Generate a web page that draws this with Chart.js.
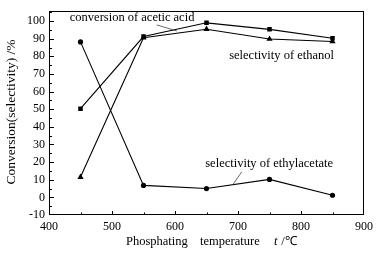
<!DOCTYPE html>
<html>
<head>
<meta charset="utf-8">
<script src="https://cdn.jsdelivr.net/npm/chart.js@4.4.1/dist/chart.umd.min.js"></script>
<style>
html,body{margin:0;padding:0;background:#fff;}
#wrap{width:380px;height:255px;position:relative;}
</style>
</head>
<body>
<div id="wrap"><canvas id="c" width="380" height="255"></canvas></div>
<script>
// ---- data ----
const temperatures = [450, 550, 650, 750, 850];
const conversionAceticAcid = [50.3, 91.2, 99.0, 95.3, 90.3];
const selectivityEthanol = [11.5, 90.5, 95.4, 89.8, 88.4];
const selectivityEthylacetate = [88.2, 6.8, 5.0, 10.2, 1.2];
const xTickValues = [400, 500, 600, 700, 800, 900];
const yTickValues = [-10, 0, 10, 20, 30, 40, 50, 60, 70, 80, 90, 100];

const SERIF = '"Liberation Serif", "Times New Roman", serif';

const annotations = [
  {text: 'conversion of acetic acid', x: 433, y: 101.8, leader: [571, 97.8, 603, 94.4]},
  {text: 'selectivity of ethanol', x: 686, y: 80.4},
  {text: 'selectivity of ethylacetate', x: 648, y: 19.0, leader: [706, 14.5, 692, 7.3]}
];

const toPts = arr => arr.map((v, i) => ({x: temperatures[i], y: v}));

const decor = {
  id: 'decor',
  afterDraw(chart) {
    const {ctx, chartArea: a, scales: {x, y}} = chart;
    ctx.save();
    ctx.strokeStyle = '#000';
    ctx.lineWidth = 1;
    // frame
    ctx.strokeRect(Math.round(a.left) + 0.5, Math.round(a.top) + 0.5,
                   Math.round(a.right - a.left) - 1, Math.round(a.bottom - a.top) - 1);
    // inward ticks
    ctx.beginPath();
    for (let v = 450; v < 900; v += 50) {
      const px = Math.round(x.getPixelForValue(v)) + 0.5;
      const len = (v % 100 === 0) ? 4 : 2.5;
      ctx.moveTo(px, a.bottom);
      ctx.lineTo(px, a.bottom - len);
    }
    for (let v = -5; v <= 105; v += 5) {
      const py = Math.round(y.getPixelForValue(v)) + 0.5;
      if (py < a.top + 1) continue;
      const len = (v % 10 === 0) ? 5 : 3;
      ctx.moveTo(a.left, py);
      ctx.lineTo(a.left + len, py);
    }
    ctx.stroke();
    // annotations
    ctx.fillStyle = '#000';
    ctx.font = '12.5px ' + SERIF;
    ctx.textBaseline = 'middle';
    ctx.textAlign = 'left';
    ctx.lineWidth = 0.8;
    ctx.strokeStyle = '#444';
    annotations.forEach(an => {
      ctx.fillText(an.text, x.getPixelForValue(an.x), y.getPixelForValue(an.y));
      if (an.leader) {
        ctx.beginPath();
        ctx.moveTo(x.getPixelForValue(an.leader[0]), y.getPixelForValue(an.leader[1]));
        ctx.lineTo(x.getPixelForValue(an.leader[2]), y.getPixelForValue(an.leader[3]));
        ctx.stroke();
      }
    });
    // axis titles
    ctx.font = '12.5px ' + SERIF;
    ctx.textAlign = 'left';
    const ty = 242;
    ctx.fillText('Phosphating', 126, ty);
    ctx.fillText('temperature', 200, ty);
    ctx.font = 'italic 12.5px ' + SERIF;
    ctx.fillText('t', 274, ty);
    ctx.font = '12.5px ' + SERIF;
    ctx.fillText(' /℃', 278, ty);
    ctx.save();
    ctx.translate(11, 112);
    ctx.rotate(-Math.PI / 2);
    ctx.textAlign = 'center';
    ctx.font = '13.5px ' + SERIF;
    ctx.fillText('Conversion(selectivity) /%', 0, 0);
    ctx.restore();
    ctx.restore();
  }
};

const ds = (label, data, style, radius) => ({
  label, data: toPts(data), borderColor: '#000', backgroundColor: '#000',
  borderWidth: 1.1, pointStyle: style, pointRadius: radius, pointHoverRadius: radius,
  pointBorderWidth: 0, tension: 0, fill: false
});

new Chart(document.getElementById('c'), {
  type: 'line',
  data: {
    datasets: [
      ds('conversion of acetic acid', conversionAceticAcid, 'rect', 3.2),
      ds('selectivity of ethanol', selectivityEthanol, 'triangle', 3.6),
      ds('selectivity of ethylacetate', selectivityEthylacetate, 'circle', 2.6)
    ]
  },
  options: {
    responsive: false,
    animation: false,
    events: [],
    layout: {padding: {top: 8, right: 16, left: 0, bottom: 0}},
    plugins: {legend: {display: false}, tooltip: {enabled: false}},
    scales: {
      x: {
        type: 'linear', min: 400, max: 900,
        border: {display: false},
        grid: {display: false, drawTicks: false},
        afterBuildTicks: s => { s.ticks = xTickValues.map(v => ({value: v})); },
        afterFit: s => { s.height = 40; },
        ticks: {color: '#000', font: {family: SERIF, size: 12}, padding: 5, maxRotation: 0}
      },
      y: {
        type: 'linear', min: -10, max: 105.6,
        border: {display: false},
        grid: {display: false, drawTicks: false},
        afterBuildTicks: s => { s.ticks = yTickValues.map(v => ({value: v})); },
        afterFit: s => { s.width = 49; },
        ticks: {color: '#000', font: {family: SERIF, size: 12}, padding: 4}
      }
    }
  },
  plugins: [decor]
});
</script>
</body>
</html>
